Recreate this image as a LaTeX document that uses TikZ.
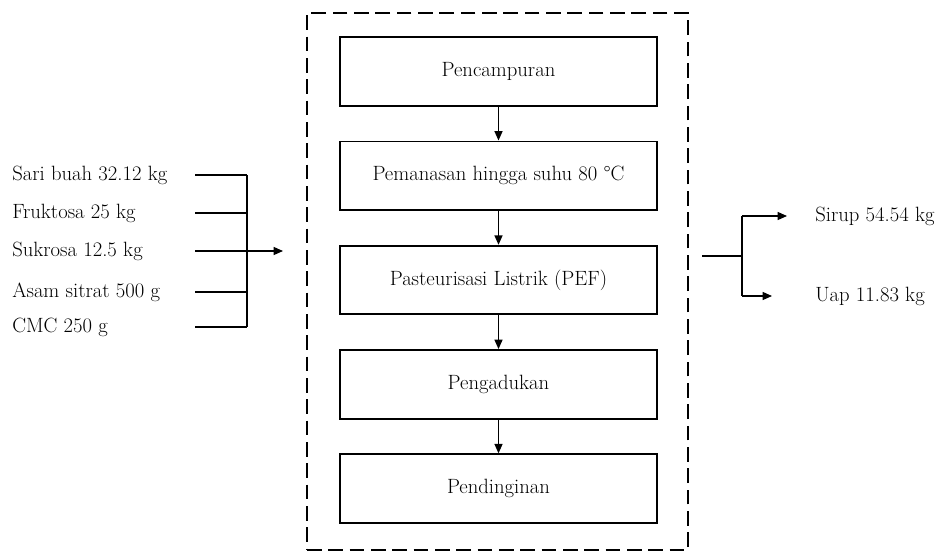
\documentclass[tikz,border=0pt]{standalone}
\usetikzlibrary{arrows.meta,positioning}

\begin{document}
\begin{tikzpicture}[
      x=0.75pt, y=-0.75pt,
      node distance=25.3pt,
      block/.style={rectangle, draw=black, line width=1.4pt, minimum width=237.75pt, minimum height=51.5pt, align=center, font=\fontsize{15.5}{18}\selectfont},
      frame/.style={rectangle, draw=black, line width=2.2pt, dash pattern=on 11pt off 5pt, minimum width=285.75pt, minimum height=402.75pt},
      item/.style={anchor=west, inner sep=0pt, font=\fontsize{15.5}{18}\selectfont},
      link/.style={line width=0.9pt},
      arrow/.style={-{Triangle[length=7pt,width=6pt]}, line width=0.9pt}
  ]
  \useasboundingbox (0,0) rectangle (952,553);

  % Process frame and steps
  \node (frame) [frame] at (497.5,281.5) {};
  \node (mix) [block] at (498.5,71.5) {Pencampuran};
  \node (heat) [block, below=of mix] {Pemanasan hingga suhu 80 \textdegree C};
  \node (pef) [block, below=of heat] {Pasteurisasi Listrik (PEF)};
  \node (stir) [block, below=of pef] {Pengadukan};
  \node (cool) [block, below=of stir] {Pendinginan};

  \draw [arrow] (mix) -- (heat);
  \draw [arrow] (heat) -- (pef);
  \draw [arrow] (pef) -- (stir);
  \draw [arrow] (stir) -- (cool);

  % Inputs
  \node (sari) [item] at (12,175) {Sari buah 32.12 kg};
  \node (fruk) [item] at (12,213) {Fruktosa 25 kg};
  \node (sukr) [item] at (12,251) {Sukrosa 12.5 kg};
  \node (asam) [item] at (12,292) {Asam sitrat 500 g};
  \node (cmc) [item] at (12,327) {CMC 250 g};

  \coordinate (inL) at (195,0);
  \coordinate (busL) at (247,0);
  \coordinate (inEnd) at (283,0);
  \foreach \n in {sari,fruk,sukr,asam,cmc}
    \draw [link] (\n -| inL) -- (\n -| busL);
  \draw [link] (sari -| busL) -- (cmc -| busL);
  \draw [arrow] (sukr -| busL) -- (sukr -| inEnd);

  % Outputs
  \node (sirup) [item] at (815,216) {Sirup 54.54 kg};
  \node (uap) [item] at (815,296) {Uap 11.83 kg};

  \coordinate (outStart) at (702,256);
  \coordinate (busR) at (742,0);
  \coordinate (tipS) at (787,0);
  \coordinate (tipU) at (772,0);
  \draw [link] (outStart) -- (outStart -| busR);
  \draw [link] (sirup -| busR) -- (uap -| busR);
  \draw [arrow] (sirup -| busR) -- (sirup -| tipS);
  \draw [arrow] (uap -| busR) -- (uap -| tipU);

\end{tikzpicture}
\end{document}
